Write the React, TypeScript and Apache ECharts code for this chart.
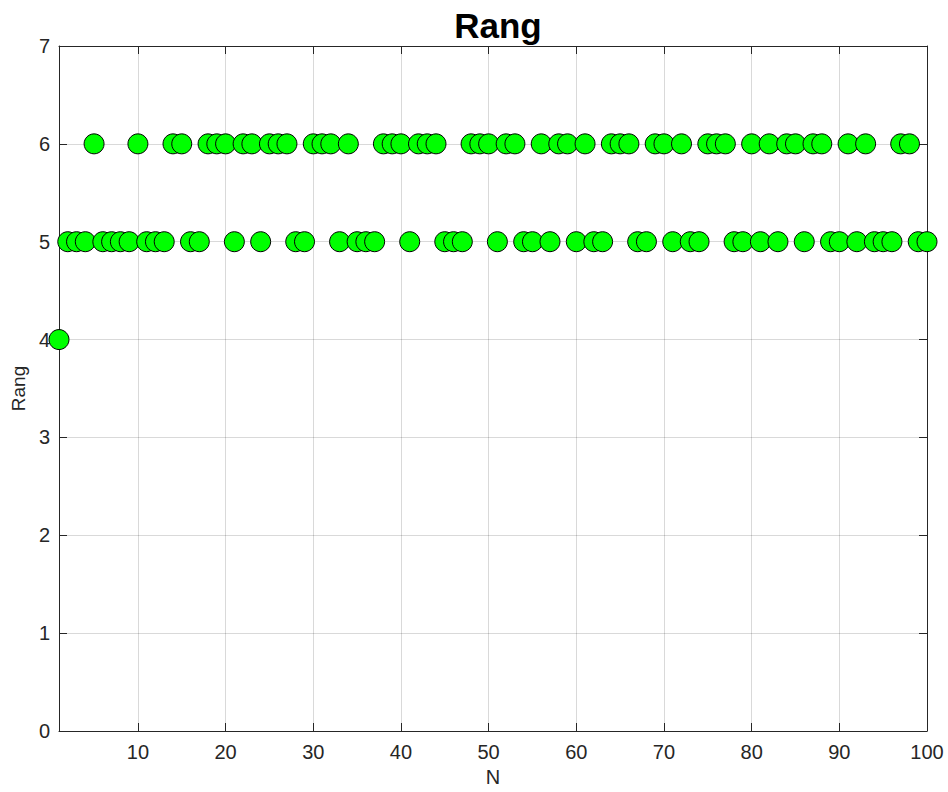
import React, { useEffect, useRef } from "react";
import * as echarts from "echarts";

const nValues: number[] = Array.from({ length: 100 }, (_, i) => i + 1);
const rank6: number[] = [5, 10, 14, 15, 18, 19, 20, 22, 23, 25, 26, 27, 30, 31, 32, 34, 38, 39, 40, 42, 43, 44, 48, 49, 50, 52, 53, 56, 58, 59, 61, 64, 65, 66, 69, 70, 72, 75, 76, 77, 80, 82, 84, 85, 87, 88, 91, 93, 97, 98];
const rank4: number[] = [1];
const xTicks: number[] = [10, 20, 30, 40, 50, 60, 70, 80, 90, 100];

const rangValues: number[] = nValues.map((n) => (rank4.includes(n) ? 4 : rank6.includes(n) ? 6 : 5));

const FONT = "'Liberation Sans', Arial, Helvetica, sans-serif";
const AX = "#262626";
const GRID = "rgba(0,0,0,0.15)";

export default function App() {
  const ref = useRef<HTMLDivElement>(null);
  useEffect(() => {
    if (!ref.current) return;
    const chart = echarts.init(ref.current, null, { renderer: "svg" });
    const tickInside = { show: true, inside: true, length: 8, lineStyle: { color: AX, width: 1 } };
    chart.setOption({
      animation: false,
      backgroundColor: "#ffffff",
      title: {
        text: "Rang",
        left: 493,
        textAlign: "center",
        top: 3,
        textStyle: { fontFamily: FONT, fontSize: 35, fontWeight: "bold", color: "#000" },
      },
      grid: { left: 59, top: 46, right: 21, bottom: 61, containLabel: false },
      xAxis: [
        {
          type: "value",
          min: 1,
          max: 100,
          name: "N",
          nameLocation: "middle",
          nameGap: 33,
          nameTextStyle: { fontFamily: FONT, fontSize: 20, color: AX },
          axisLine: { show: true, lineStyle: { color: AX, width: 1 } },
          axisTick: { ...tickInside, customValues: xTicks },
          axisLabel: { customValues: xTicks, fontFamily: FONT, fontSize: 20, color: AX, margin: 11 },
          splitLine: { show: true, lineStyle: { color: GRID, width: 1 } },
        },
        {
          type: "value",
          position: "top",
          min: 1,
          max: 100,
          axisLine: { show: true, onZero: false, lineStyle: { color: AX, width: 1 } },
          axisTick: { ...tickInside, customValues: xTicks },
          axisLabel: { show: false },
          splitLine: { show: false },
        },
      ],
      yAxis: [
        {
          type: "value",
          min: 0,
          max: 7,
          interval: 1,
          name: "Rang",
          nameLocation: "middle",
          nameGap: 28,
          nameTextStyle: { fontFamily: FONT, fontSize: 19, color: AX },
          axisLine: { show: true, onZero: false, lineStyle: { color: AX, width: 1 } },
          axisTick: tickInside,
          axisLabel: { fontFamily: FONT, fontSize: 20, color: AX, margin: 9 },
          splitLine: { show: true, lineStyle: { color: GRID, width: 1 } },
        },
        {
          type: "value",
          position: "right",
          min: 0,
          max: 7,
          interval: 1,
          axisLine: { show: true, onZero: false, lineStyle: { color: AX, width: 1 } },
          axisTick: tickInside,
          axisLabel: { show: false },
          splitLine: { show: false },
        },
      ],
      series: [
        {
          type: "scatter",
          xAxisIndex: 0,
          yAxisIndex: 0,
          data: nValues.map((n, i) => [n, rangValues[i]]),
          symbol: "circle",
          symbolSize: 20,
          clip: false,
          itemStyle: { color: "#00ff00", borderColor: "#000000", borderWidth: 1, opacity: 1 },
        },
      ],
    });
    return () => chart.dispose();
  }, []);
  return <div ref={ref} style={{ position: "fixed", left: 0, top: 0, width: 948, height: 792 }} />;
}
